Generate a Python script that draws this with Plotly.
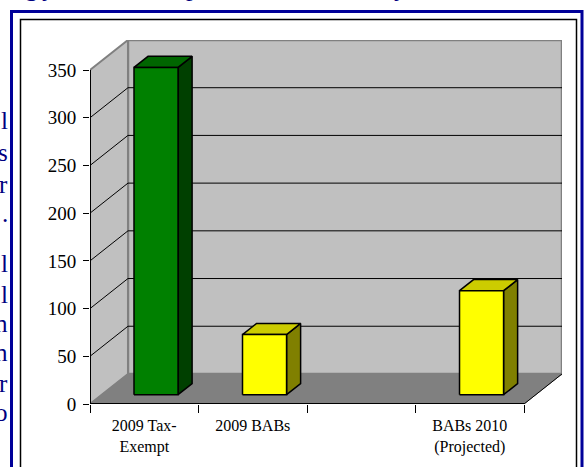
import plotly.graph_objects as go

# ---------------- data ----------------
categories = ["2009 Tax-<br>Exempt", "2009 BABs", "", "BABs 2010<br>(Projected)"]
values = [343, 63, None, 109]
front_colors = ["#008000", "#FFFF00", None, "#FFFF00"]
top_colors = ["#006600", "#CCCC00", None, "#CCCC00"]
side_colors = ["#004000", "#808000", None, "#808000"]
y_tickvals = [0, 50, 100, 150, 200, 250, 300, 350]
y_max = 350

# surrounding document text fragments (cut off at the page edges)
left_chars = ["l", "s", "r", ".", "l", "l", "n", "n", "r", "o"]
top_chars = ["g", "y", ",", "p", "y"]

# ---------------- layout constants ----------------
W, H = 586, 467
L, R, T, B = 90, 24, 40, 63
PW, PH = W - L - R, H - T - B
n = len(categories)
DX = 0.35      # depth shift, category units
DY = 31.5      # depth shift, value units
x_range = [0, n + DX]
y_range = [0, y_max + DY]
D1, D2 = 0.31, 0.68   # bar front / back depth
HW = 0.203            # bar half width


def px2paper_x(px):
    return (px - L) / PW


def px2paper_y(py):
    return (H - B - py) / PH


def proj(u, v, d):
    return u + DX * d, v + DY * d


def poly(pts, fill, line_color, lw):
    xs = [p[0] for p in pts] + [pts[0][0]]
    ys = [p[1] for p in pts] + [pts[0][1]]
    return go.Scatter(x=xs, y=ys, fill="toself", fillcolor=fill, mode="lines",
                      line=dict(color=line_color, width=lw), hoverinfo="skip",
                      showlegend=False)


def polyline(segs, color, lw):
    xs, ys = [], []
    for seg in segs:
        for p in seg:
            xs.append(p[0]); ys.append(p[1])
        xs.append(None); ys.append(None)
    return go.Scatter(x=xs, y=ys, mode="lines", line=dict(color=color, width=lw),
                      hoverinfo="skip", showlegend=False)


fig = go.Figure()

# walls and floor
fig.add_trace(poly([proj(0, 0, 1), proj(n, 0, 1), proj(n, y_max, 1), proj(0, y_max, 1)],
                   "#C0C0C0", "#808080", 2.5))
fig.add_trace(poly([proj(0, 0, 0), proj(0, 0, 1), proj(0, y_max, 1), proj(0, y_max, 0)],
                   "#C0C0C0", "#808080", 2))
fig.add_trace(poly([proj(0, 0, 0), proj(n, 0, 0), proj(n, 0, 1), proj(0, 0, 1)],
                   "#808080", "#808080", 1))

# gridlines
grid_segs = []
for v in y_tickvals:
    if 0 < v < y_max:
        grid_segs.append([proj(0, v, 0), proj(0, v, 1), proj(n, v, 1)])
fig.add_trace(polyline(grid_segs, "black", 1))

# bars
for i, val in enumerate(values):
    if val is None:
        continue
    c = i + 0.5
    uL, uR = c - HW, c + HW
    fig.add_trace(poly([proj(uR, 0, D1), proj(uR, 0, D2), proj(uR, val, D2), proj(uR, val, D1)],
                       side_colors[i], "black", 1.5))
    fig.add_trace(poly([proj(uL, val, D1), proj(uR, val, D1), proj(uR, val, D2), proj(uL, val, D2)],
                       top_colors[i], "black", 1.5))
    fig.add_trace(poly([proj(uL, 0, D1), proj(uR, 0, D1), proj(uR, val, D1), proj(uL, val, D1)],
                       front_colors[i], "black", 1.5))

# axis lines (y axis and floor front/right edges)
fig.add_trace(polyline([[proj(0, 0, 0), proj(0, y_max, 0)]], "black", 2))
fig.add_trace(polyline([[proj(0, 0, 0), proj(n, 0, 0)]], "black", 2))
fig.add_trace(polyline([[proj(n, 0, 0), proj(n, 0, 1)]], "black", 1))

serif = "Liberation Serif"

fig.update_layout(
    width=W, height=H,
    margin=dict(l=L, r=R, t=T, b=B, autoexpand=False),
    paper_bgcolor="white", plot_bgcolor="white",
    showlegend=False,
    xaxis=dict(range=x_range, showgrid=False, zeroline=False, showline=False,
               tickmode="array", tickvals=[i + 0.5 for i in range(n)], ticktext=categories,
               ticks="", tickfont=dict(family=serif, size=16, color="black"),
               ticklabelstandoff=10,
               minor=dict(ticks="outside", ticklen=8, tickwidth=1, tickcolor="black",
                          tickmode="linear", tick0=0, dtick=1, showgrid=False),
               fixedrange=True),
    yaxis=dict(range=y_range, showgrid=False, zeroline=False, showline=False,
               tickmode="array", tickvals=y_tickvals,
               ticks="outside", ticklen=6, tickwidth=1, tickcolor="black",
               tickfont=dict(family=serif, size=19, color="black"),
               ticklabelstandoff=3, fixedrange=True),
)

# frame borders
fig.add_shape(type="rect", xref="paper", yref="paper",
              x0=px2paper_x(11.5), x1=px2paper_x(582), y0=px2paper_y(490), y1=px2paper_y(11.5),
              line=dict(color="#000099", width=3), fillcolor="rgba(0,0,0,0)")
fig.add_shape(type="rect", xref="paper", yref="paper",
              x0=px2paper_x(20.5), x1=px2paper_x(576.5), y0=px2paper_y(490), y1=px2paper_y(19.5),
              line=dict(color="black", width=1.5), fillcolor="rgba(0,0,0,0)")

# clipped document text
left_baselines = [130, 162, 194, 223, 273, 304, 333, 362, 393, 422]
fs = 25
for ch, bl in zip(left_chars, left_baselines):
    fig.add_annotation(text=ch, xref="paper", yref="paper", showarrow=False,
                       x=px2paper_x(10), y=px2paper_y(bl + 1 + 0.216 * fs),
                       xanchor="right", yanchor="bottom",
                       font=dict(family=serif, size=fs, color="#000080"))
top_x = [31, 48, 103, 192, 400]
fs2 = 26
for ch, cx in zip(top_chars, top_x):
    fig.add_annotation(text=ch, xref="paper", yref="paper", showarrow=False,
                       x=px2paper_x(cx), y=px2paper_y(-3 + 1 + 0.216 * fs2),
                       xanchor="center", yanchor="bottom",
                       font=dict(family=serif, size=fs2, color="#000080"))

fig.write_html("out.html", config={"displayModeBar": False, "staticPlot": True},
               post_script="document.body.style.margin='0';document.body.style.overflow='hidden';")
